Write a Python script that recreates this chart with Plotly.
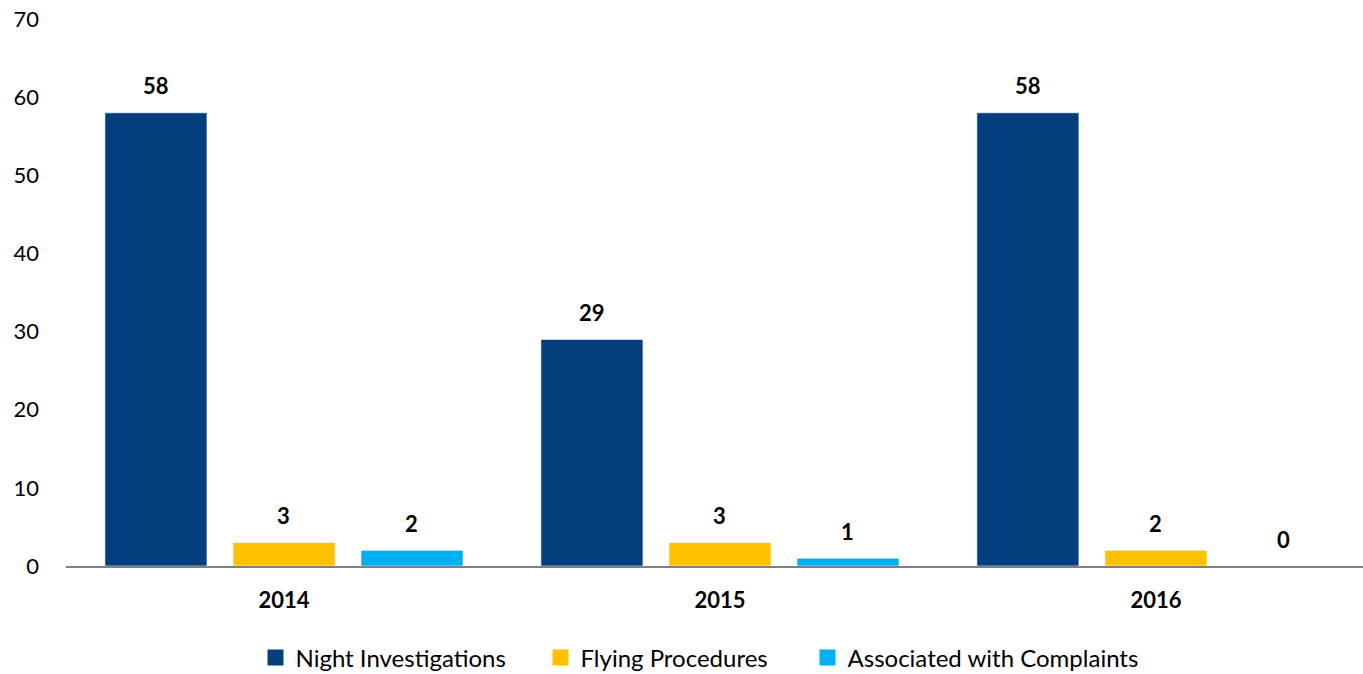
import plotly.graph_objects as go

years = ["2014", "2015", "2016"]
series_names = ["Night Investigations", "Flying Procedures", "Associated with Complaints"]
night = [58, 29, 58]
flying = [3, 3, 2]
complaints = [2, 1, 0]
colors = ["#023F7C", "#FFC000", "#00B0F0"]
y_ticks = [0, 10, 20, 30, 40, 50, 60, 70]

FONT = "Lato, 'Open Sans', sans-serif"
fig = go.Figure()
all_vals = [night, flying, complaints]
for name, vals, col in zip(series_names, all_vals, colors):
    fig.add_trace(go.Bar(
        name=name, x=years, y=vals, showlegend=False,
        marker=dict(color=col, line=dict(color="rgba(255,255,255,0.6)", width=1)),
    ))

# legend entries (one legend box each, for Excel-like spacing)
legend_ids = ["legend", "legend2", "legend3"]
legend_x = [255.5, 540.5, 807.5]
for name, col, lid in zip(series_names, colors, legend_ids):
    fig.add_trace(go.Scatter(
        name=name, x=[None], y=[None], mode="markers", legend=lid,
        marker=dict(symbol="square", size=16, color=col),
    ))

# data labels
slot_px = 128
for i, vals in enumerate(all_vals):
    for j, v in enumerate(vals):
        fig.add_annotation(
            x=j, y=v, xref="x", yref="y", text=f"<b>{v}</b>",
            showarrow=False, xshift=(i - 1) * slot_px, yshift=27,
            yanchor="middle", font=dict(family=FONT, size=22, color="#000000"),
        )

legend_common = dict(orientation="h", xanchor="left", xref="container",
                     y=(674 - 658) / 674, yanchor="middle", yref="container",
                     font=dict(family=FONT, size=24), itemsizing="trace",
                     bgcolor="rgba(0,0,0,0)")
layout_legends = {lid: dict(legend_common, x=lx / 1363) for lid, lx in zip(legend_ids, legend_x)}

fig.update_layout(
    width=1363, height=674,
    margin=dict(l=66, r=0, t=19, b=108, autoexpand=False),
    paper_bgcolor="white", plot_bgcolor="white",
    barmode="group", bargap=0.119, bargroupgap=0.203,
    font=dict(family=FONT, size=22, color="#000000"),
    showlegend=True,
    **layout_legends,
)
fig.update_xaxes(
    type="category", range=[-0.5, 2.475], automargin=False,
    showline=True, linecolor="#808080", linewidth=1.5,
    showgrid=False, ticks="", ticklabelstandoff=14,
    tickfont=dict(family=FONT, size=22, color="#000000", weight="bold"),
)
fig.update_yaxes(
    range=[0, 70], tickvals=y_ticks, showgrid=False, zeroline=False,
    showline=False, ticks="", ticklabelstandoff=26, automargin=False,
    tickfont=dict(family=FONT, size=22, color="#000000"),
)
fig.write_html(
    "out.html",
    config={"displayModeBar": False},
    post_script="document.body.style.margin='0';document.body.style.overflow='hidden';",
)
